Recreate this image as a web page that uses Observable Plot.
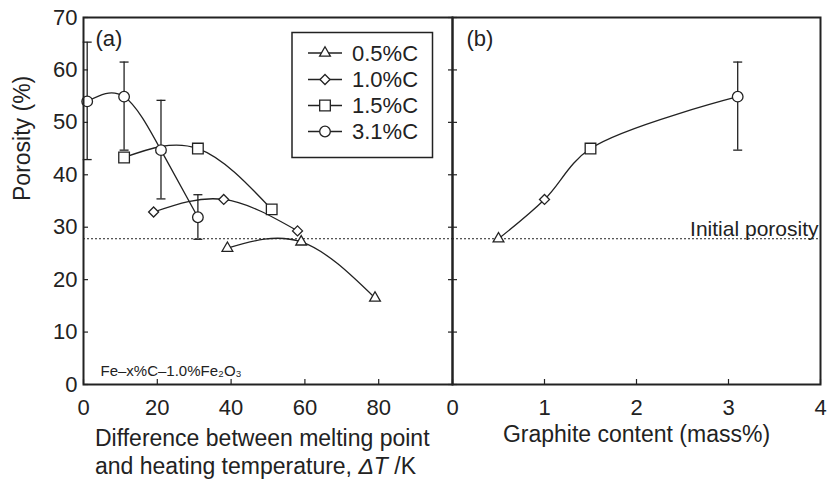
<!DOCTYPE html>
<html>
<head>
<meta charset="utf-8">
<script src="https://cdn.jsdelivr.net/npm/d3@7"></script>
<script src="https://cdn.jsdelivr.net/npm/@observablehq/plot@0.6"></script>
<style>
  body { margin: 0; background: #fff; }
  #chart { position: relative; width: 827px; height: 479px; font-family: "Liberation Sans", Arial, Helvetica, sans-serif; }
  #chart svg { position: absolute; top: 0; overflow: visible; }
</style>
</head>
<body>
<div id="chart"></div>
<script>
// ---------- data ----------
const seriesNames = ["0.5%C", "1.0%C", "1.5%C", "3.1%C"];
const dT_05 = [39, 59, 79];        const por_05 = [26.0, 27.2, 16.5];
const dT_10 = [19, 38, 58];        const por_10 = [32.9, 35.3, 29.3];
const dT_15 = [11, 31, 51];        const por_15 = [43.3, 45.0, 33.4];
const dT_31 = [1, 11, 21, 31];     const por_31 = [54.0, 54.9, 44.7, 31.9];
const err31Low  = [42.9, 44.7, 35.4, 27.7];
const err31High = [65.3, 61.5, 54.2, 36.2];
const graphite = [0.5, 1.0, 1.5, 3.1];
const porB = [27.8, 35.3, 45.0, 54.9];
const errBx = [3.1], errBLow = [44.7], errBHigh = [61.5];
const initialPorosity = 27.8;
const xTicksA = [0, 20, 40, 60, 80];
const xTicksB = [0, 1, 2, 3, 4];
const yTicks = [0, 10, 20, 30, 40, 50, 60, 70];

// ---------- styling ----------
const INK = "#222";
const FONT = '"Liberation Sans", Arial, Helvetica, sans-serif';
const symbolSpec = {
  "0.5%C": {symbol: "triangle", r: 4.0},
  "1.0%C": {symbol: "diamond2", r: 4.5},
  "1.5%C": {symbol: "square", r: 6.0},
  "3.1%C": {symbol: "circle", r: 5.3}
};
const capSymbol = {
  draw(context, size) {
    const w = Math.sqrt(size / Math.PI);
    context.moveTo(-w, 0);
    context.lineTo(w, 0);
  }
};
const zip = (xs, ys) => xs.map((x, i) => ({x, y: ys[i]}));

const H = 479, TOP = 17, BOTTOM = 384;
const A_LEFT = 83, SPLIT = 452, B_RIGHT = 820;

function lineMark(xs, ys, curve) {
  return Plot.line(zip(xs, ys), {x: "x", y: "y", curve, stroke: INK, strokeWidth: 1.3});
}
function dotMarks(name, xs, ys) {
  const s = symbolSpec[name];
  return Plot.dot(zip(xs, ys), {x: "x", y: "y", symbol: s.symbol, r: s.r, fill: "white", stroke: INK, strokeWidth: 1.3});
}
function errorMarks(xs, lo, hi) {
  const d = xs.map((x, i) => ({x, lo: lo[i], hi: hi[i]}));
  return [
    Plot.ruleX(d, {x: "x", y1: "lo", y2: "hi", stroke: INK, strokeWidth: 1.3}),
    Plot.dot(d, {x: "x", y: "lo", symbol: capSymbol, r: 4.5, fill: "none", stroke: INK, strokeWidth: 1.3}),
    Plot.dot(d, {x: "x", y: "hi", symbol: capSymbol, r: 4.5, fill: "none", stroke: INK, strokeWidth: 1.3})
  ];
}

const chart = document.getElementById("chart");

// ---------- panel (a) ----------
const widthA = 460;
const panelA = Plot.plot({
  width: widthA, height: H,
  marginLeft: A_LEFT, marginRight: widthA - SPLIT, marginTop: TOP, marginBottom: H - BOTTOM,
  x: {domain: [0, 100], nice: false},
  y: {domain: [0, 70], nice: false},
  style: {background: "transparent", overflow: "visible", color: INK, fontFamily: FONT},
  marks: [
    Plot.ruleY([initialPorosity], {stroke: INK, strokeWidth: 1, strokeDasharray: "2,2"}),
    Plot.axisY(yTicks, {anchor: "left", tickSize: -5, tickPadding: 11, fontSize: 22, label: null, strokeWidth: 1.2}),
    Plot.axisY(yTicks, {anchor: "right", tickSize: -5, tickFormat: () => "", label: null, strokeWidth: 1.2}),
    Plot.axisX(xTicksA, {anchor: "bottom", tickSize: -5, tickPadding: 20, fontSize: 22, label: null, strokeWidth: 1.2}),
    lineMark(dT_05, por_05, "natural"),
    lineMark(dT_10, por_10, "natural"),
    lineMark(dT_15, por_15, "natural"),
    lineMark(dT_31, por_31, "natural"),
    ...errorMarks(dT_31, err31Low, err31High),
    dotMarks("0.5%C", dT_05, por_05),
    dotMarks("1.0%C", dT_10, por_10),
    dotMarks("1.5%C", dT_15, por_15),
    dotMarks("3.1%C", dT_31, por_31),
    Plot.frame({stroke: INK, strokeWidth: 2}),
    Plot.text(["(a)"], {frameAnchor: "top-left", dx: 12, dy: 13, textAnchor: "start", lineAnchor: "top", fontSize: 22, fill: INK}),
    Plot.text(["Fe–x%C–1.0%Fe₂O₃"], {frameAnchor: "bottom-left", dx: 17, dy: -9, textAnchor: "start", lineAnchor: "bottom", fontSize: 15, fill: INK}),
    Plot.text(["Porosity (%)"], {frameAnchor: "left", rotate: -90, dx: -61, fontSize: 23, fill: INK})
  ]
});
panelA.style.left = "0px";
chart.appendChild(panelA);

// x-axis title of panel (a), with italic ΔT, and the legend
{
  const svg = d3.select(panelA);
  const g = svg.append("g").attr("font-family", FONT).attr("font-size", 23)
    .attr("fill", INK).attr("text-anchor", "start");
  g.append("text").attr("x", 95).attr("y", 446).text("Difference between melting point");
  const t2 = g.append("text").attr("x", 95).attr("y", 474);
  t2.append("tspan").text("and heating temperature, ");
  t2.append("tspan").attr("font-style", "italic").text("ΔT");
  t2.append("tspan").text(" /K");

  const lg = svg.append("g").attr("text-anchor", "start");
  lg.append("rect").attr("x", 292).attr("y", 32.5).attr("width", 140.5).attr("height", 125)
    .attr("fill", "white").attr("stroke", INK).attr("stroke-width", 1.5);
  const types = {triangle: d3.symbolTriangle, diamond2: d3.symbolDiamond2, square: d3.symbolSquare, circle: d3.symbolCircle};
  const rowY = [53, 79.5, 105.5, 131.5];
  seriesNames.forEach((name, i) => {
    const s = symbolSpec[name];
    const y = rowY[i];
    lg.append("line").attr("x1", 308).attr("x2", 342).attr("y1", y).attr("y2", y)
      .attr("stroke", INK).attr("stroke-width", 1.3);
    lg.append("path").attr("transform", `translate(325,${y})`)
      .attr("d", d3.symbol(types[s.symbol], Math.PI * s.r * s.r)())
      .attr("fill", "white").attr("stroke", INK).attr("stroke-width", 1.3);
    lg.append("text").attr("x", 352).attr("y", y).attr("dy", "0.36em")
      .attr("font-family", FONT).attr("font-size", 22).attr("fill", INK).text(name);
  });
}

// ---------- panel (b) ----------
const leftB = 444, widthB = 383;
const panelB = Plot.plot({
  width: widthB, height: H,
  marginLeft: SPLIT - leftB, marginRight: widthB - (B_RIGHT - leftB), marginTop: TOP, marginBottom: H - BOTTOM,
  x: {domain: [0, 4], nice: false},
  y: {domain: [0, 70], nice: false},
  style: {background: "transparent", overflow: "visible", color: INK, fontFamily: FONT},
  marks: [
    Plot.ruleY([initialPorosity], {stroke: INK, strokeWidth: 1, strokeDasharray: "2,2"}),
    Plot.axisY(yTicks, {anchor: "left", tickSize: -5, tickFormat: () => "", label: null, strokeWidth: 1.2}),
    Plot.axisX(xTicksB, {anchor: "bottom", tickSize: -5, tickPadding: 20, fontSize: 22, label: null, strokeWidth: 1.2}),
    lineMark(graphite, porB, "catmull-rom"),
    ...errorMarks(errBx, errBLow, errBHigh),
    ...seriesNames.map((name, i) => dotMarks(name, [graphite[i]], [porB[i]])),
    Plot.frame({stroke: INK, strokeWidth: 2}),
    Plot.text(["(b)"], {frameAnchor: "top-left", dx: 14, dy: 13, textAnchor: "start", lineAnchor: "top", fontSize: 22, fill: INK}),
    Plot.text(["Initial porosity"], {x: [4], y: [initialPorosity], dx: -2, dy: -3, textAnchor: "end", lineAnchor: "bottom", fontSize: 21, fill: INK}),
    Plot.text(["Graphite content (mass%)"], {frameAnchor: "bottom", dy: 57, fontSize: 23, fill: INK})
  ]
});
panelB.style.left = leftB + "px";
chart.appendChild(panelB);
</script>
</body>
</html>
